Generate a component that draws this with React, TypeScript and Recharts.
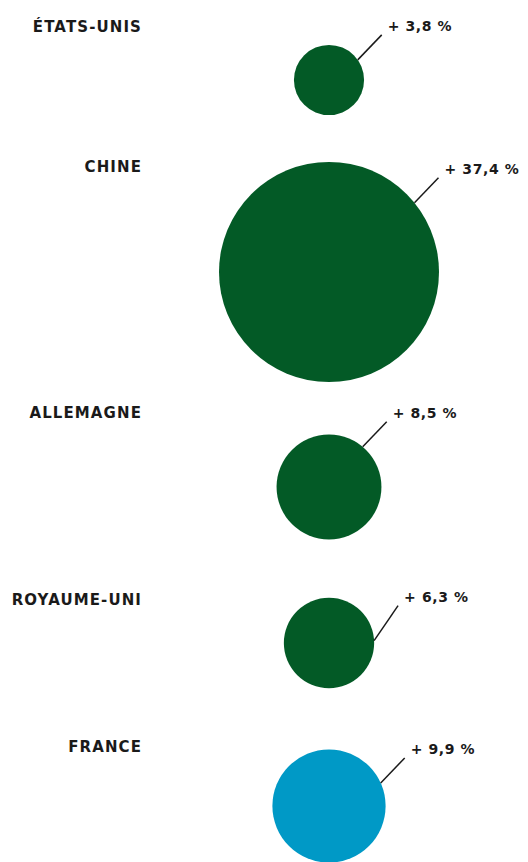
import { Scatter, ScatterChart, XAxis, YAxis, ZAxis, Cell } from "recharts";

// growth by country, in %
const countries = ["ÉTATS-UNIS", "CHINE", "ALLEMAGNE", "ROYAUME-UNI", "FRANCE"];
const growth = [3.8, 37.4, 8.5, 6.3, 9.9];
const valueLabels = ["+ 3,8 %", "+ 37,4 %", "+ 8,5 %", "+ 6,3 %", "+ 9,9 %"];
const highlight = ["FRANCE"];

// layout only: height of each row and top margin that places the bubble
const rowHeights = [140, 246, 187, 127, 162];
const rowTopMargins = [20, 18, 15, 13, 50];
const labelY = [27, 27, 27, 27, 47];
// leader line: angle on the bubble edge (deg) and its rise
const leaderAngle = [35, 39, 50, 3, 24];
const leaderRise = [25, 25, 25, 35, 25];

const GREEN = "#035a26";
const BLUE = "#0099c6";
const TEXT = "#1a1a1a";
const FONT = "'DejaVu Sans', sans-serif";
const MAX_R = 110;
const maxGrowth = Math.max(...growth);

function Bubble(props: any) {
  const { cx, cy, width, fill, payload } = props;
  const r = width / 2;
  const a = (payload.angle * Math.PI) / 180;
  const sx = cx + r * Math.cos(a);
  const sy = cy - r * Math.sin(a);
  const ex = sx + 24;
  const ey = sy - payload.rise;
  return (
    <g>
      <circle cx={cx} cy={cy} r={r} fill={fill} />
      <line x1={sx} y1={sy} x2={ex} y2={ey} stroke={TEXT} strokeWidth={1.5} />
      <text
        x={ex + 6}
        y={ey - 9}
        dominantBaseline="central"
        fontFamily={FONT}
        fontWeight="bold"
        fontSize={14}
        letterSpacing={0.6}
        fill={TEXT}
      >
        {payload.valueLabel}
      </text>
      <text
        x={142}
        y={payload.labelY}
        textAnchor="end"
        dominantBaseline="central"
        fontFamily={FONT}
        fontWeight="bold"
        fontSize={15}
        letterSpacing={1.1}
        fill={TEXT}
      >
        {payload.country}
      </text>
    </g>
  );
}

function Row({ i }: { i: number }) {
  const data = [
    {
      country: countries[i],
      x: 0.5,
      y: 0.5,
      z: growth[i],
      valueLabel: valueLabels[i],
      labelY: labelY[i],
      angle: leaderAngle[i],
      rise: leaderRise[i],
    },
  ];
  const fill = highlight.includes(countries[i]) ? BLUE : GREEN;
  return (
    <ScatterChart
      width={528}
      height={rowHeights[i]}
      margin={{ top: rowTopMargins[i], right: 0, bottom: 0, left: 130 }}
      style={{ overflow: "visible" }}
    >
      <XAxis type="number" dataKey="x" domain={[0, 1]} hide />
      <YAxis type="number" dataKey="y" domain={[0, 1]} hide />
      <ZAxis type="number" dataKey="z" domain={[0, maxGrowth]} range={[0, Math.PI * MAX_R * MAX_R]} />
      <Scatter data={data} shape={<Bubble />} isAnimationActive={false}>
        {data.map((d) => (
          <Cell key={d.country} fill={fill} />
        ))}
      </Scatter>
    </ScatterChart>
  );
}

export default function App() {
  return (
    <div style={{ position: "absolute", top: 0, left: 0, width: 528, height: 862, background: "#fff", overflow: "hidden" }}>
      {countries.map((c, i) => (
        <Row key={c} i={i} />
      ))}
    </div>
  );
}
